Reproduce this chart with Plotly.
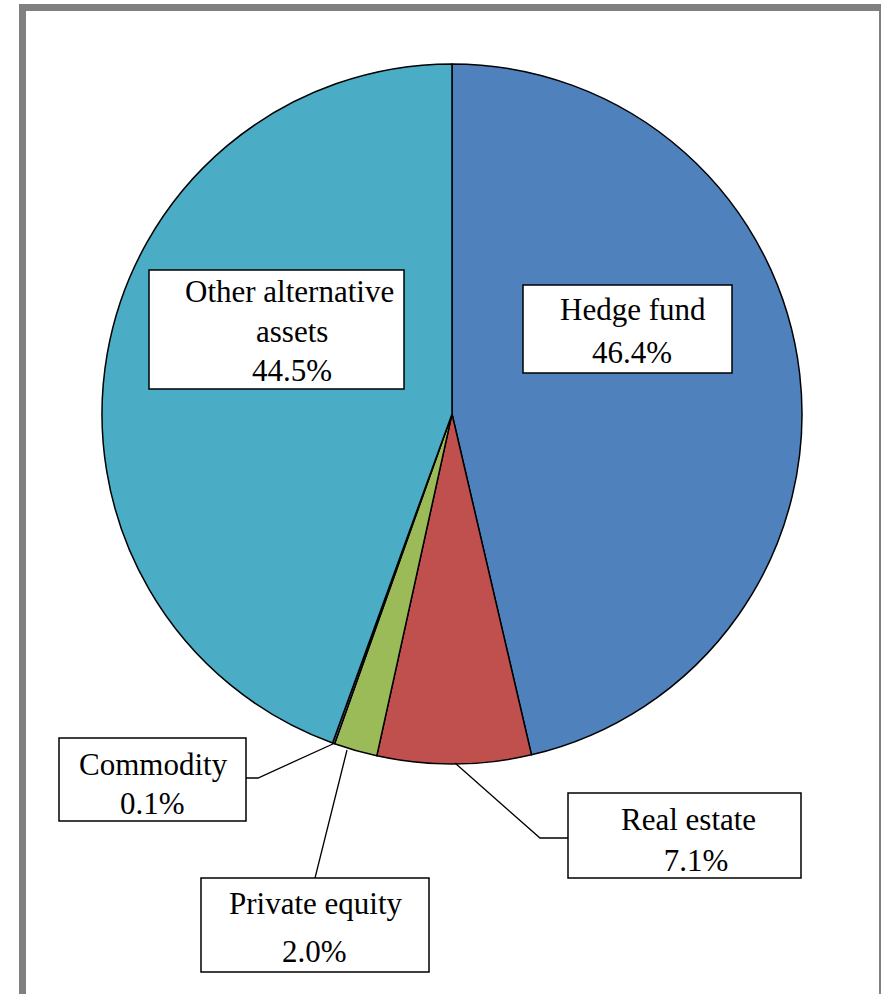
import plotly.graph_objects as go

# ---- data ----
categories = ["Hedge fund", "Real estate", "Private equity", "Commodity", "Other alternative assets"]
shares = [46.4, 7.1, 2.0, 0.1, 44.5]
colors = ["#4F81BD", "#C0504D", "#9BBB59", "#8064A2", "#4BACC6"]
label_lines = {
    "Hedge fund": ["Hedge fund", "46.4%"],
    "Real estate": ["Real estate", " 7.1%"],
    "Private equity": ["Private equity", "2.0%"],
    "Commodity": ["Commodity", "0.1%"],
    "Other alternative assets": ["Other alternative", "assets", "44.5%"],
}

W, H = 881, 994


def px(x):
    return x / W


def py(y):
    return 1 - y / H


fig = go.Figure(go.Pie(
    labels=categories,
    values=shares,
    sort=False,
    direction="clockwise",
    rotation=0,
    marker=dict(colors=colors, line=dict(color="black", width=1.5)),
    textinfo="none",
    hoverinfo="label+percent",
    showlegend=False,
    domain=dict(x=[px(102), px(802)], y=[py(764), py(64)]),
))

# ---- layout: label boxes (pixel layout positions) ----
boxes = {
    "Other alternative assets": (149, 270, 404, 389),
    "Hedge fund": (523, 285, 732, 373),
    "Commodity": (59, 738, 246, 821),
    "Private equity": (201, 878, 429, 972),
    "Real estate": (568, 793, 801, 878),
}
text_pos = {
    "Other alternative assets": [(289, 302), (292, 342), (292, 381)],
    "Hedge fund": [(633, 320), (632, 363)],
    "Commodity": [(153, 774), (152, 813)],
    "Private equity": [(316, 913), (314, 961)],
    "Real estate": [(688, 829), (692, 870)],
}
leaders = {
    "Real estate": [(455, 763), (540, 838), (568, 838)],
    "Private equity": [(347, 750), (315, 878)],
    "Commodity": [(335, 743), (258, 778), (246, 778)],
}

shapes = []
annotations = []

for name, pts in leaders.items():
    path = "M " + " L ".join(f"{px(x)},{py(y)}" for x, y in pts)
    shapes.append(dict(type="path", path=path, xref="paper", yref="paper",
                       line=dict(color="black", width=1.3)))

for name, (x0, y0, x1, y1) in boxes.items():
    shapes.append(dict(type="rect", xref="paper", yref="paper",
                       x0=px(x0), x1=px(x1), y0=py(y1), y1=py(y0),
                       fillcolor="white", line=dict(color="black", width=1.5)))
    for txt, (tx, ty) in zip(label_lines[name], text_pos[name]):
        annotations.append(dict(text=txt, xref="paper", yref="paper",
                                x=px(tx), y=py(ty - 10), xanchor="center", yanchor="middle",
                                showarrow=False,
                                font=dict(family="Liberation Serif, Times New Roman, serif",
                                          size=31, color="black")))

# outer frame
shapes.append(dict(type="rect", xref="paper", yref="paper",
                   x0=px(22.5), x1=px(882.5), y0=py(1020), y1=py(7.5),
                   line=dict(color="#808080", width=7), fillcolor="rgba(0,0,0,0)"))

fig.update_layout(
    width=W, height=H,
    margin=dict(l=0, r=0, t=0, b=0),
    paper_bgcolor="white",
    plot_bgcolor="white",
    shapes=shapes,
    annotations=annotations,
)

fig.write_html("out.html",
               config={"displayModeBar": False},
               post_script="document.body.style.margin='0';document.body.style.overflow='hidden';")
